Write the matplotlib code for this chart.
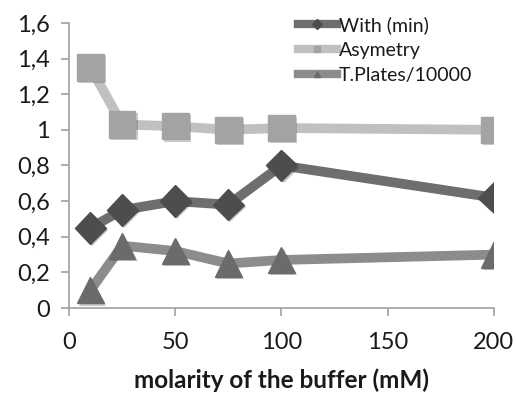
import matplotlib
matplotlib.use("Agg")
import matplotlib.pyplot as plt
import matplotlib.patheffects as pe

x = [10, 25, 50, 75, 100, 200]
width_min = [0.45, 0.55, 0.60, 0.58, 0.80, 0.62]
asymetry = [1.35, 1.03, 1.02, 1.00, 1.01, 1.00]
plates = [0.10, 0.35, 0.32, 0.25, 0.27, 0.30]
labels = ["With (min)", "Asymetry", "T.Plates/10000"]
yticks = [0, 0.2, 0.4, 0.6, 0.8, 1.0, 1.2, 1.4, 1.6]
ytick_labels = ["0", "0,2", "0,4", "0,6", "0,8", "1", "1,2", "1,4", "1,6"]
xticks = [0, 50, 100, 150, 200]

plt.rcParams['font.family'] = ['Lato', 'DejaVu Sans']

fig = plt.figure(figsize=(5.16, 3.94), dpi=100)
ax = fig.add_axes([0.134, 0.218, 0.823, 0.724])

shadow = [pe.SimplePatchShadow(offset=(1.5, -1.5), alpha=0.25), pe.Normal()]

series = [
    (width_min, "#6e6e70", "#4d4d4f", "D", 16),
    (asymetry, "#c0c0c2", "#a3a3a5", "s", 19),
    (plates, "#8c8c8e", "#6b6b6d", "^", 19),
]
handles = []
for (vals, lc, mc, mk, ms), lab in zip(series, labels):
    ax.plot(x, vals, color=lc, lw=7, solid_capstyle='round', zorder=2)
    mkline, = ax.plot(x, vals, ls='none', marker=mk, ms=ms, mfc=mc,
                      mec=mc, zorder=3)
    mkline.set_path_effects(shadow)
    h, = ax.plot([], [], color=lc, lw=6, marker=mk, ms=5, mfc=mc, mec=mc,
                 label=lab)
    handles.append(h)

ax.set_xlim(0, 200)
ax.set_ylim(0, 1.6)
ax.set_xticks(xticks)
ax.set_yticks(yticks)
ax.set_yticklabels(ytick_labels)
ax.tick_params(axis='both', colors='#a0a0a0', labelcolor='#1a1a1a',
               labelsize=17, length=6, width=1.2, direction='out')
ax.tick_params(axis='x', pad=11)
ax.tick_params(axis='y', pad=8)
for s in ['top', 'right']:
    ax.spines[s].set_visible(False)
for s in ['left', 'bottom']:
    ax.spines[s].set_color('#a0a0a0')
    ax.spines[s].set_linewidth(1.2)

ax.set_xlabel("molarity of the buffer (mM)", fontsize=17.5, fontweight='bold',
              color='#1a1a1a', labelpad=11)

leg = ax.legend(handles=handles, loc='upper left', bbox_to_anchor=(0.52, 1.05),
                frameon=False, fontsize=14, handlelength=2.0, handletextpad=0.1,
                labelspacing=0.4, borderaxespad=0)
for t in leg.get_texts():
    t.set_color('#1a1a1a')

fig.savefig("out.png", dpi=100)
